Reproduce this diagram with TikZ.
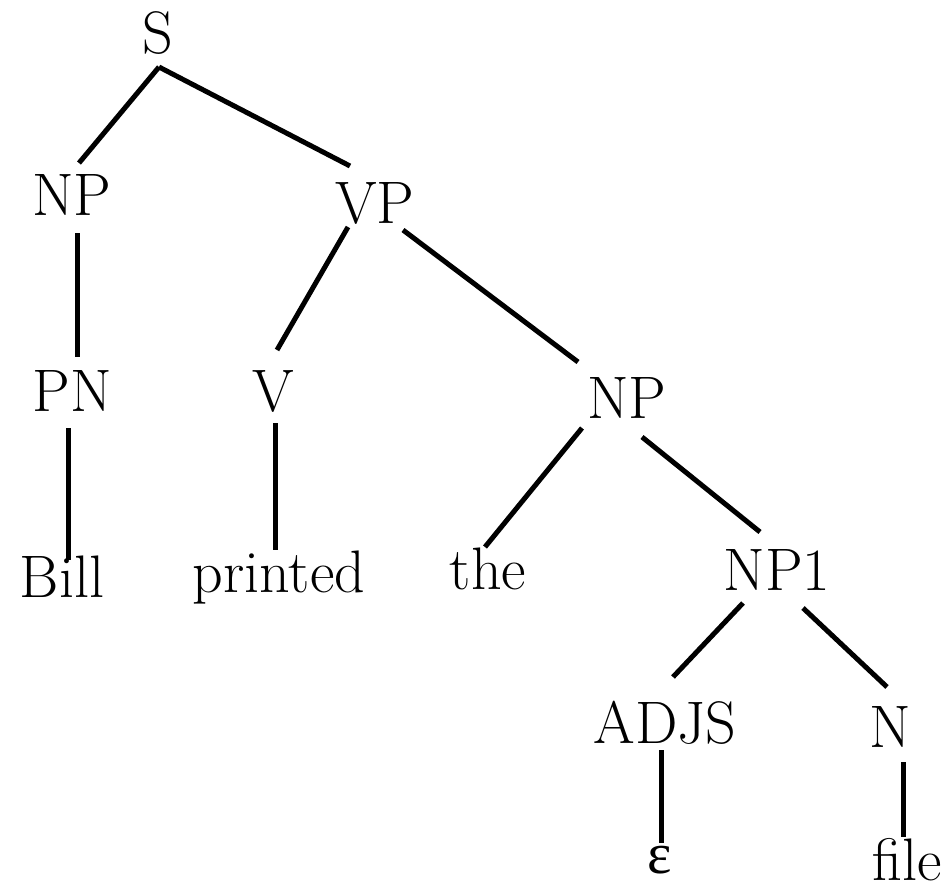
\documentclass[tikz,border=0pt]{standalone}
\usepackage{fontspec}
\newfontfamily\grk{Liberation Serif}
\begin{document}
\begin{tikzpicture}[x=1pt,y=-1pt,
  lbl/.style={anchor=base,inner sep=0pt,font=\fontsize{60}{72}\selectfont},
  branch/.style={line width=5pt}]
\useasboundingbox (0,0) rectangle (952,883);
% category labels and words, placed at their baselines
\node[lbl] (S)    at (158,53)  {S};
\node[lbl] (NPa)  at (72,215)  {NP};
\node[lbl] (VP)   at (375,223) {VP};
\node[lbl] (PN)   at (72,411)  {PN};
\node[lbl] (V)    at (273,411) {V};
\node[lbl] (NPb)  at (627,418) {NP};
\node[lbl] (Bill) at (62,597)  {Bill};
\node[lbl] (prt)  at (279,592) {printed};
\node[lbl] (the)  at (488,589) {the};
\node[lbl] (NP1)  at (777,590) {NP1};
\node[lbl] (ADJS) at (665,743) {ADJS};
\node[lbl] (N)    at (890,747) {N};
\node[lbl,font=\fontsize{58}{70}\selectfont\grk] (eps) at (660,873) {ε};
\node[lbl] (file) at (907,880) {file};
% branches
\draw[branch] ([shift={(1,14)}]S.base) -- ([shift={(7,-52)}]NPa.base);
\draw[branch] ([shift={(1,14)}]S.base) -- ([shift={(-25,-57)}]VP.base);
\draw[branch] ([shift={(5,18)}]NPa.base) -- ([shift={(5,-54)}]PN.base);
\draw[branch] ([shift={(-27,4)}]VP.base) -- ([shift={(4,-61)}]V.base);
\draw[branch] ([shift={(28,7)}]VP.base) -- ([shift={(-49,-56)}]NPb.base);
\draw[branch] ([shift={(-4,17)}]PN.base) -- ([shift={(6,-37)}]Bill.base);
\draw[branch] ([shift={(2,12)}]V.base) -- ([shift={(-4,-42)}]prt.base);
\draw[branch] ([shift={(-45,10)}]NPb.base) -- ([shift={(-3,-42)}]the.base);
\draw[branch] ([shift={(15,19)}]NPb.base) -- ([shift={(-17,-58)}]NP1.base);
\draw[branch] ([shift={(-34,13)}]NP1.base) -- ([shift={(8,-66)}]ADJS.base);
\draw[branch] ([shift={(26,18)}]NP1.base) -- ([shift={(-3,-60)}]N.base);
\draw[branch] ([shift={(-4,7)}]ADJS.base) -- ([shift={(1,-30)}]eps.base);
\draw[branch] ([shift={(13,15)}]N.base) -- ([shift={(-4,-43)}]file.base);
\end{tikzpicture}
\end{document}
